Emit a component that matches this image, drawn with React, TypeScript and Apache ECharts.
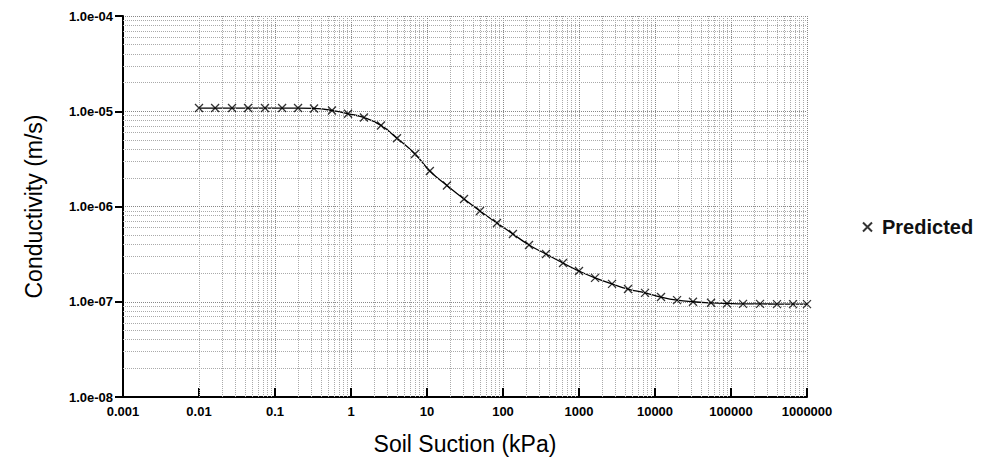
import React, { useEffect, useRef } from "react";
import * as echarts from "echarts";

const xTickLabels = ["0.001", "0.01", "0.1", "1", "10", "100", "1000", "10000", "100000", "1000000"];
const yTickLabels = ["1.0e-08", "1.0e-07", "1.0e-06", "1.0e-05", "1.0e-04"];

const suction = [
  0.01, 0.0163, 0.0272, 0.0442, 0.0738, 0.124, 0.201, 0.326, 0.562, 0.914,
  1.48, 2.48, 4.03, 6.95, 10.9, 18.3, 30.7, 49.8, 83.4, 135,
  220, 368, 616, 1000, 1625, 2720, 4415, 7390, 12000, 19500,
  31600, 54600, 88500, 144000, 241000, 403000, 655000, 1000000,
];
const conductivity = [
  1.08e-5, 1.08e-5, 1.08e-5, 1.08e-5, 1.08e-5, 1.08e-5, 1.08e-5, 1.07e-5, 1.02e-5, 9.4e-6,
  8.6e-6, 7.1e-6, 5.2e-6, 3.56e-6, 2.36e-6, 1.66e-6, 1.2e-6, 8.97e-7, 6.7e-7, 5.15e-7,
  3.94e-7, 3.17e-7, 2.55e-7, 2.1e-7, 1.78e-7, 1.54e-7, 1.36e-7, 1.24e-7, 1.12e-7, 1.04e-7,
  1.0e-7, 9.75e-8, 9.6e-8, 9.5e-8, 9.5e-8, 9.45e-8, 9.45e-8, 9.45e-8,
];

const FONT = "'Liberation Sans', Arial, sans-serif";
const X_MIN = 0.001;
const X_MAX = 1000000;
const Y_MIN = 1e-8;
const Y_MAX = 1e-4;

function minorGrid() {
  const lines: any[] = [];
  for (let e = -3; e < 6; e++) {
    for (let m = 2; m <= 9; m++) lines.push({ xAxis: m * Math.pow(10, e) });
  }
  for (let e = -8; e < -4; e++) {
    for (let m = 2; m <= 9; m++) {
      const v = m * Math.pow(10, e);
      lines.push([{ coord: [X_MIN, v] }, { coord: [X_MAX, v] }]);
    }
  }
  return lines;
}

export default function App() {
  const ref = useRef<HTMLDivElement>(null);
  useEffect(() => {
    if (!ref.current) return;
    const chart = echarts.init(ref.current, null, { renderer: "svg" });
    const points = suction.map((s, i) => [s, conductivity[i]]);
    chart.setOption({
      animation: false,
      backgroundColor: "#fff",
      grid: { left: 123, right: 186, top: 16, bottom: 70 },
      legend: {
        data: ["Predicted"],
        left: 857,
        top: 212,
        itemWidth: 9,
        itemHeight: 9,
        itemGap: 6,
        textStyle: {
          fontSize: 20,
          fontWeight: "bold",
          color: "#111",
          fontFamily: FONT,
          padding: [0, 0, 0, 5],
        },
      },
      xAxis: {
        type: "log",
        logBase: 10,
        min: X_MIN,
        max: X_MAX,
        name: "Soil Suction (kPa)",
        nameLocation: "middle",
        nameGap: 35,
        nameTextStyle: { fontSize: 23, color: "#000", fontFamily: FONT },
        axisLine: { lineStyle: { color: "#000", width: 2 } },
        axisTick: { inside: true, length: 9, lineStyle: { color: "#000", width: 2 } },
        axisLabel: {
          margin: 8,
          fontSize: 13,
          fontWeight: "bold",
          color: "#000",
          fontFamily: FONT,
          formatter: (v: number) => xTickLabels[Math.round(Math.log10(v)) + 3] ?? "",
        },
        splitLine: { show: true, lineStyle: { color: "#888", type: "dotted", width: 1 } },
      },
      yAxis: {
        type: "log",
        logBase: 10,
        min: Y_MIN,
        max: Y_MAX,
        name: "Conductivity (m/s)",
        nameLocation: "middle",
        nameGap: 78,
        nameTextStyle: { fontSize: 23, color: "#000", fontFamily: FONT },
        axisLine: { lineStyle: { color: "#000", width: 2 } },
        axisTick: { inside: false, length: 8, lineStyle: { color: "#000", width: 2 } },
        axisLabel: {
          margin: 10,
          fontSize: 13,
          fontWeight: "bold",
          color: "#000",
          fontFamily: FONT,
          formatter: (v: number) => yTickLabels[Math.round(Math.log10(v)) + 8] ?? "",
        },
        splitLine: { show: true, lineStyle: { color: "#888", type: "dotted", width: 1 } },
      },
      series: [
        {
          type: "line",
          name: "curve",
          data: points,
          smooth: true,
          showSymbol: false,
          silent: true,
          lineStyle: { color: "#000", width: 1.3 },
          markLine: {
            silent: true,
            symbol: "none",
            label: { show: false },
            lineStyle: { color: "#aaa", type: "dotted", width: 1 },
            data: minorGrid(),
          },
        },
        {
          type: "scatter",
          name: "Predicted",
          data: points,
          symbol: "path://M0,0L10,10M0,10L10,0",
          symbolSize: 8,
          itemStyle: { color: "transparent", borderColor: "#000", borderWidth: 1.3 },
          z: 5,
        },
      ],
    });
    return () => chart.dispose();
  }, []);
  return (
    <div
      ref={ref}
      style={{ position: "fixed", left: 0, top: 0, width: 993, height: 467, background: "#fff" }}
    />
  );
}
